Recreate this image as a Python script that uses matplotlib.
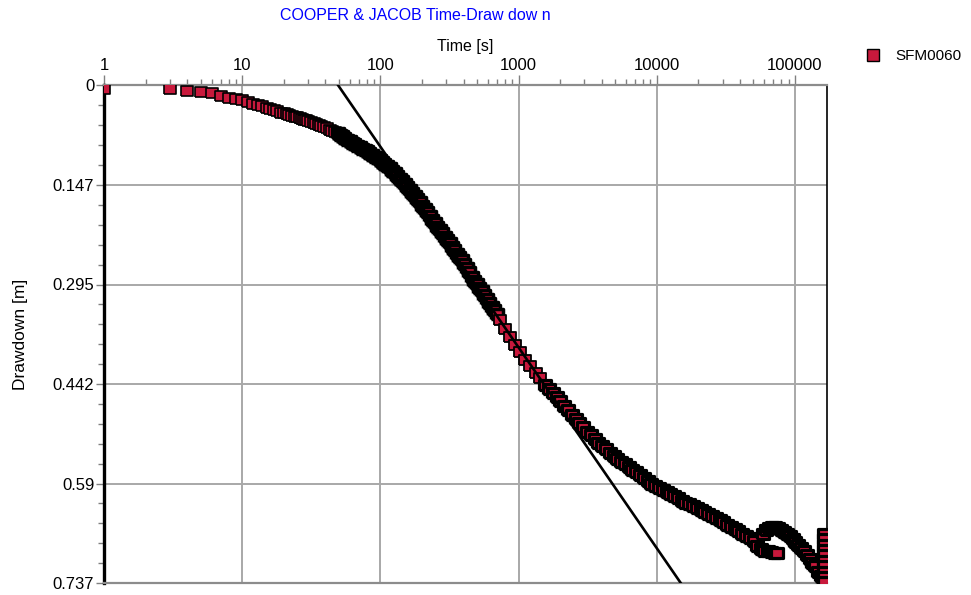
import matplotlib
matplotlib.use("Agg")
import matplotlib.pyplot as plt
from matplotlib.lines import Line2D
from matplotlib.ticker import FixedLocator, LogLocator, NullFormatter

plt.rcParams['font.family'] = ['Liberation Sans', 'DejaVu Sans']

# ---------------data-----------
# early readings 1 s - 47 s (markers still apart)
time_early = [1, 3, 4, 5, 6, 7, 8, 9, 10, 11, 12, 13, 14, 15, 16, 17, 18, 19,
              20, 21, 22, 23, 24, 25, 26, 27, 28, 29, 30, 31.5, 33, 34.5, 36, 37.5, 39, 41,
              43, 45, 47]
dd_early = [0.005, 0.005, 0.008, 0.010, 0.011, 0.015, 0.018, 0.020, 0.022, 0.024, 0.027,
            0.029, 0.031, 0.033, 0.035, 0.036, 0.038, 0.040,
            0.041, 0.042, 0.0435, 0.0448, 0.046, 0.047, 0.0483, 0.0495, 0.0507, 0.0518,
            0.053, 0.0545, 0.056, 0.0574, 0.0587, 0.060, 0.0614, 0.0635, 0.0654, 0.0674,
            0.0692]

# dense logging 49 s - 700 s
time_mid = [49, 51, 53, 55, 57.5, 60, 62.5, 65, 68, 71, 74, 77, 80, 83, 87, 91,
            95, 99, 103, 107, 112, 117, 122, 127, 132, 138, 144, 150, 156, 163, 170, 177,
            185, 193, 201, 210, 219, 228, 238, 248, 258, 269, 280, 292, 304, 317, 330, 344,
            359, 374, 390, 406, 423, 441, 460, 479, 499, 520, 542, 565, 589, 614, 640, 667,
            695]
dd_mid = [0.071, 0.0733, 0.0754, 0.0775, 0.080, 0.0825, 0.0848, 0.0868, 0.0892,
          0.0913, 0.0934, 0.0954, 0.0977, 0.0999, 0.1027, 0.1053, 0.108, 0.1109, 0.1136,
          0.1162, 0.1194, 0.1225, 0.126, 0.130, 0.134, 0.138, 0.142, 0.146, 0.150, 0.1547,
          0.159, 0.1635, 0.168, 0.173, 0.178, 0.183, 0.188, 0.193, 0.199, 0.204, 0.209,
          0.214, 0.219, 0.224, 0.229, 0.234, 0.239, 0.244, 0.249, 0.254, 0.259, 0.265,
          0.270, 0.276, 0.283, 0.289, 0.294, 0.300, 0.305, 0.311, 0.317, 0.322, 0.328,
          0.333, 0.339]

# sparser stretch 700 s - 1500 s
time_gap = [740, 800, 870, 945, 1030, 1120, 1220, 1330, 1440]
dd_gap = [0.347, 0.361, 0.373, 0.384, 0.395, 0.406, 0.416, 0.426, 0.434]

# late logging 1500 s - end
time_late = [1560, 1660, 1770, 1890, 2010, 2140, 2280, 2430, 2590, 2760, 2940, 3130, 3330,
             3550, 3780, 4030, 4290, 4570, 4870, 5190, 5520, 5880, 6270, 6670, 7110, 7570,
             8060, 8590, 9150, 9740, 10400, 11100, 11800, 12500, 13400, 14200, 15200,
             16100, 17200, 18300, 19500, 20800, 22100, 23600, 25100, 26700, 28500, 30300,
             32300, 34400, 36600, 39000, 41600, 44300, 47100, 50200, 53500, 57000,
             58500, 60000, 61500, 63500, 65000, 67000, 68500, 70500, 72000, 74000, 76000,
             80000, 84000, 88000, 92000, 96500, 101000, 106000, 111000, 116000, 122000,
             128000, 134000, 140000, 147000, 154000, 161000,
             163000, 163000, 163000, 163000, 163000, 163000, 163000, 163000, 163000, 163000]
dd_late = [0.4435, 0.4492, 0.455, 0.461, 0.4675, 0.4743, 0.4813, 0.488, 0.494, 0.500,
           0.5066, 0.513, 0.518, 0.524, 0.5296, 0.5345, 0.5392, 0.544, 0.5484, 0.5529,
           0.5572, 0.5612, 0.5652, 0.569, 0.5729, 0.5773, 0.582, 0.5865, 0.5906, 0.5936,
           0.5965, 0.5995, 0.6026, 0.6053, 0.6086, 0.6113, 0.615, 0.618, 0.6205, 0.6232,
           0.6255, 0.6288, 0.6316, 0.635, 0.638, 0.641, 0.6442, 0.6472, 0.6505, 0.6538,
           0.6571, 0.6605, 0.664, 0.6675, 0.6709, 0.6745, 0.6824, 0.6865,
           0.664, 0.689, 0.658, 0.690, 0.655, 0.691, 0.654, 0.692, 0.654, 0.693, 0.656,
           0.659, 0.662, 0.665, 0.668, 0.672, 0.676, 0.680, 0.685, 0.690, 0.696,
           0.701, 0.707, 0.712, 0.721, 0.726, 0.730,
           0.664, 0.672, 0.680, 0.688, 0.696, 0.704, 0.712, 0.720, 0.728, 0.735]

# straight line of the Cooper & Jacob fit
fit_time = [49.6, 14930]
fit_drawdown = [0.0, 0.737]

y_ticks = [0.0, 0.1474, 0.2948, 0.4422, 0.5896, 0.737]
y_labels = ["0", "0.147", "0.295", "0.442", "0.59", "0.737"]
x_ticks = [1, 10, 100, 1000, 10000, 100000]
x_labels = ["1", "10", "100", "1000", "10000", "100000"]

red = '#C8193C'
# flat rectangle like the original markers
rect = [(-1, -0.85), (1, -0.85), (1, 0.85), (-1, 0.85), (-1, -0.85)]

# ---------------figure-----------
fig = plt.figure(figsize=(9.71, 5.95), dpi=100)
ax = fig.add_axes([104 / 971, 1 - 583 / 595, (826.7 - 104) / 971, (583 - 85.5) / 595])

# the overlapping parts look almost black in the original -> heavier edges there
segments = [(time_early, dd_early, 1.2, 8.0), (time_mid, dd_mid, 2.5, 8.6),
            (time_gap, dd_gap, 1.3, 8.0), (time_late, dd_late, 2.3, 8.4)]
for tt, dd, ew, ms in segments:
    ax.plot(tt, dd, linestyle='none', marker=rect, markersize=ms,
            markerfacecolor=red, markeredgecolor='black', markeredgewidth=ew, zorder=3)
ax.plot(fit_time, fit_drawdown, color='black', linewidth=1.9, zorder=4)

ax.set_xscale('log')
ax.set_xlim(1, 170000)
ax.set_ylim(0.737, 0)

# ticks on top
ax.xaxis.tick_top()
ax.xaxis.set_label_position('top')
ax.set_xticks(x_ticks)
ax.set_xticklabels(x_labels)
ax.xaxis.set_minor_locator(LogLocator(base=10, subs=range(2, 10)))
ax.xaxis.set_minor_formatter(NullFormatter())
ax.set_yticks(y_ticks)
ax.set_yticklabels(y_labels)
ax.yaxis.set_minor_locator(FixedLocator([0.737 * i / 25 for i in range(26)]))

ax.tick_params(axis='x', which='major', length=7, width=1, color='#808080', labelsize=12, pad=2)
ax.tick_params(axis='x', which='minor', length=4, width=1, color='#808080')
ax.tick_params(axis='y', which='major', length=6, width=1, color='#808080', labelsize=12, pad=1)
ax.tick_params(axis='y', which='minor', length=4, width=1, color='#808080')

ax.grid(True, which='major', color='#A8A8A8', linewidth=1.4)
ax.set_axisbelow(True)

ax.spines['left'].set_color('black')
ax.spines['left'].set_linewidth(2.4)
ax.spines['right'].set_color('black')
ax.spines['right'].set_linewidth(1.2)
ax.spines['top'].set_color('#8C8C8C')
ax.spines['top'].set_linewidth(1.6)
ax.spines['bottom'].set_color('#8C8C8C')
ax.spines['bottom'].set_linewidth(1.6)

ax.set_xlabel('Time [s]', fontsize=11.5, labelpad=5)
ax.set_ylabel('Drawdown [m]', fontsize=12.5, labelpad=18)

fig.text(415 / 971, 1 - 16 / 595, 'COOPER & JACOB Time-Draw dow n', color='#0000FF',
         fontsize=11.5, ha='center', va='center')

handle = Line2D([], [], linestyle='none', marker='s', markersize=8,
                markerfacecolor=red, markeredgecolor='black', markeredgewidth=1.0)
fig.legend(handles=[handle], labels=['SFM0060'], loc='center left',
           bbox_to_anchor=(865 / 971, 1 - 56 / 595), frameon=False, fontsize=11,
           handlelength=1.0, handletextpad=1.0, borderpad=0, borderaxespad=0)

fig.savefig('out.png', dpi=100)
